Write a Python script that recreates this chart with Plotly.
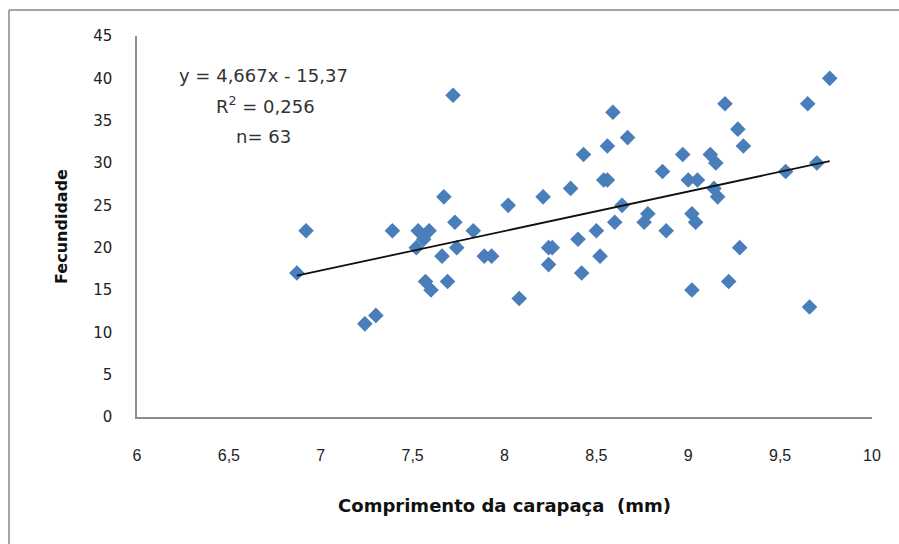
import plotly.graph_objects as go
import numpy as np

comprimento = [6.87, 6.92, 7.24, 7.30, 7.39, 7.53, 7.59, 7.56, 7.52, 7.57, 7.60, 7.66, 7.67,
               7.69, 7.72, 7.73, 7.74, 7.83, 7.89, 7.93, 8.02, 8.08, 8.21, 8.24, 8.24, 8.26,
               8.36, 8.40, 8.42, 8.43, 8.50, 8.52, 8.54, 8.56, 8.56, 8.59, 8.60, 8.64, 8.67,
               8.76, 8.78, 8.86, 8.88, 8.97, 9.00, 9.02, 9.02, 9.04, 9.05, 9.12, 9.15, 9.14,
               9.16, 9.20, 9.22, 9.27, 9.28, 9.30, 9.53, 9.65, 9.66, 9.70, 9.77]
fecundidade = [17, 22, 11, 12, 22, 22, 22, 21, 20, 16, 15, 19, 26,
               16, 38, 23, 20, 22, 19, 19, 25, 14, 26, 20, 18, 20,
               27, 21, 17, 31, 22, 19, 28, 28, 32, 36, 23, 25, 33,
               23, 24, 29, 22, 31, 28, 15, 24, 23, 28, 31, 30, 27,
               26, 37, 16, 34, 20, 32, 29, 37, 13, 30, 40]

slope = 4.667
intercept = -15.37
x_ticks = [6, 6.5, 7, 7.5, 8, 8.5, 9, 9.5, 10]
x_tick_text = ["6", "6,5", "7", "7,5", "8", "8,5", "9", "9,5", "10"]
y_ticks = [0, 5, 10, 15, 20, 25, 30, 35, 40, 45]

xmin, xmax = min(comprimento), max(comprimento)
trend_x = [xmin, xmax]
trend_y = [slope * v + intercept for v in trend_x]

fig = go.Figure()
fig.add_trace(go.Scatter(
    x=comprimento, y=fecundidade, mode="markers",
    marker=dict(symbol="diamond", size=12, color="#4a7ebb", line=dict(width=0)),
    showlegend=False, cliponaxis=False))
fig.add_trace(go.Scatter(
    x=trend_x, y=trend_y, mode="lines",
    line=dict(color="#111111", width=1.8), showlegend=False))

W, H = 899, 544
L, R, T, B = 137, 27, 36, 127
pw, ph = W - L - R, H - T - B

def px(xp):
    return (xp - L) / pw

def py(yp):
    return (H - B - yp) / ph

ann_font = dict(family="DejaVu Sans", size=18, color="#333333")

fig.update_layout(
    width=W, height=H,
    margin=dict(l=L, r=R, t=T, b=B, pad=0),
    paper_bgcolor="white", plot_bgcolor="white",
    font=dict(family="DejaVu Sans", color="#222222"),
    xaxis=dict(range=[6, 10], tickvals=x_ticks, ticktext=x_tick_text,
               showgrid=False, zeroline=False, showline=True, linecolor="#8c8c8c",
               linewidth=1.5, ticks="", ticklabelstandoff=23,
               tickfont=dict(family="Liberation Sans", size=16, color="#222222"),
               title=dict(text="<b>Comprimento da carapaça  (mm)</b>", standoff=36,
                          font=dict(family="DejaVu Sans", size=18, color="#111111"))),
    yaxis=dict(range=[0, 45], tickvals=y_ticks,
               showgrid=False, zeroline=False, showline=True, linecolor="#8c8c8c",
               linewidth=1.5, ticks="", ticklabelstandoff=20,
               tickfont=dict(family="DejaVu Sans", size=15, color="#222222"),
               title=dict(text="<b>Fecundidade</b>", standoff=22,
                          font=dict(family="DejaVu Sans", size=16, color="#111111"))),
    annotations=[
        dict(x=px(263), y=py(75), xref="paper", yref="paper", showarrow=False,
             xanchor="center", yanchor="middle",
             text="y = 4,667x - 15,37", font=ann_font),
        dict(x=px(265), y=py(105), xref="paper", yref="paper", showarrow=False,
             xanchor="center", yanchor="middle",
             text="R<sup>2</sup> = 0,256", font=ann_font),
        dict(x=px(263), y=py(136), xref="paper", yref="paper", showarrow=False,
             xanchor="center", yanchor="middle",
             text="n= 63", font=ann_font),
    ],
    shapes=[
        dict(type="line", xref="paper", yref="paper", x0=px(9), x1=px(899), y0=py(10), y1=py(10),
             line=dict(color="#a6a6a6", width=2)),
        dict(type="line", xref="paper", yref="paper", x0=px(9), x1=px(9), y0=py(10), y1=py(544),
             line=dict(color="#a6a6a6", width=2)),
    ],
)

fig.write_html("out.html")
